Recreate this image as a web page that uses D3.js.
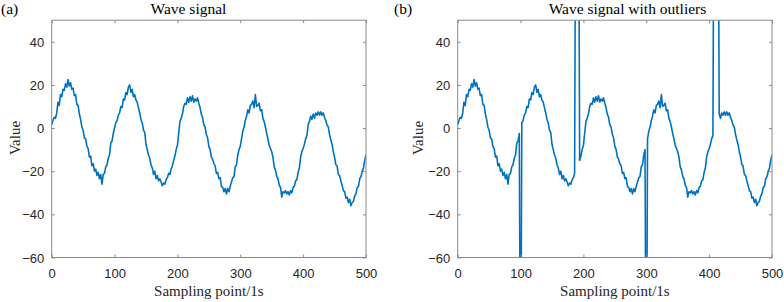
<!DOCTYPE html>
<html>
<head>
<meta charset="utf-8">
<script src="https://cdn.jsdelivr.net/npm/d3@7"></script>
<style>
  html, body { margin: 0; padding: 0; background: #fff; }
  svg { display: block; }
</style>
</head>
<body>
<svg id="chart" width="784" height="302"></svg>
<script>
// ---------------- data ----------------
const sampleStep = 2;
const waveValues = [
  1.5, 3.5, 5, 4.5, 7, 12, 10.5, 15.5, 14.5, 18,
  17.5, 20.5, 19, 22.5, 19.5, 21, 18, 18.5, 15, 15.5,
  11, 10.5, 6.5, 4, 0.5, -1, -4.5, -5, -8.5, -9.5,
  -13.5, -13, -17.5, -16.5, -20, -19, -22, -20.5, -23.5, -21.5,
  -26, -21.5, -21, -18, -17, -14, -12.5, -7, -6, -2.5,
  0, 2.5, 3.5, 6, 7, 10, 9.5, 13.5, 13, 16.5,
  15.5, 19, 20, 16.5, 18, 14.5, 15.5, 13, 12, 9.5,
  7, 4, 2.5, -1, -2, -7.5, -10, -12.5, -14, -17,
  -18.5, -21.5, -20, -23.5, -22, -24.5, -23.5, -25, -26.7, -25.5,
  -26, -24, -23, -21, -21.5, -19, -17.5, -15, -13, -10,
  -8, -2.5, 3, 4.5, 6.5, 10, 11.5, 11, 14, 12,
  14.5, 12.5, 15, 12, 13.5, 12.5, 14, 11.5, 9.5, 6.5,
  5, 1.5, 0.5, -3, -4.5, -8.5, -10, -13.5, -14.5, -16.5,
  -17.5, -21, -20.5, -23.5, -23, -27, -27.5, -29.5, -28, -30.5,
  -28, -29.5, -27, -25, -23, -22.5, -18, -17, -12.5, -10,
  -8.5, -5, -1.5, 0.5, 3.5, 5.5, 8.5, 7, 10.5, 11,
  12.5, 9.5, 15.5, 10, 10.5, 11.5, 8, 8.5, 4.5, 3,
  0.5, -2.5, -5, -8, -9.5, -11, -13.5, -18, -19.5, -22.5,
  -23.5, -26.5, -27.5, -32, -29.5, -30, -29, -30.5, -29.5, -31,
  -29, -30, -27.5, -27, -24.5, -24, -20.5, -18.5, -13.5, -11,
  -9.5, -7.5, -5, -3.5, 1.5, 3, 5.5, 4, 6.5, 4.5,
  7, 6, 7.5, 6, 7.5, 6, 7, 5, 3.5, 1.5,
  0.5, -3, -5.5, -7.5, -11, -13.5, -17, -17.5, -21.5, -22,
  -24.5, -26.5, -29, -29.5, -32.5, -32, -34.5, -33, -36, -34.5,
  -34, -31.5, -30.5, -27.5, -27, -23.5, -22.5, -20, -18.5, -15,
  -12.5
];
const outlierX = [100, 188, 190, 192, 300, 408, 410, 412, 414];
const outlierY = [-150, 150, 150, 150, -150, 150, 150, 150, 150];

const xTicks = [0, 100, 200, 300, 400, 500];
const yTicks = [-60, -40, -20, 0, 20, 40];
const xDomain = [0, 500];
const yDomain = [-60, 50];

const titles = ["Wave signal", "Wave signal with outliers"];
const panelLabels = ["(a)", "(b)"];
const xLabel = "Sampling point/1s";
const yLabel = "Value";

// ---------------- build series ----------------
const seriesA = waveValues.map((v, i) => ({x: i * sampleStep, y: v}));
const outlierMap = new Map(outlierX.map((x, i) => [x, outlierY[i]]));
const seriesB = seriesA.map(d => ({x: d.x, y: outlierMap.has(d.x) ? outlierMap.get(d.x) : d.y}));

// ---------------- layout ----------------
const panels = [
  {left: 51.7, series: seriesA, title: titles[0], titleX: 188.5, label: panelLabels[0], labelX: 1, yLabelX: 15},
  {left: 457.7, series: seriesB, title: titles[1], titleX: 627.5, label: panelLabels[1], labelX: 394, yLabelX: 418}
];
const plotW = 314.3, plotTop = 20.2, plotBottom = 257.5;

const svg = d3.select("#chart");
const axisColor = "#8a8a8a";
const textColor = "#262626";
const lineColor = "#0072BD";

panels.forEach((p, k) => {
  const x = d3.scaleLinear().domain(xDomain).range([p.left, p.left + plotW]);
  const y = d3.scaleLinear().domain(yDomain).range([plotBottom, plotTop]);
  const g = svg.append("g");

  const clipId = "clip" + k;
  svg.append("clipPath").attr("id", clipId)
    .append("rect").attr("x", p.left).attr("y", plotTop).attr("width", plotW).attr("height", plotBottom - plotTop);

  // line
  g.append("path")
    .datum(p.series)
    .attr("clip-path", `url(#${clipId})`)
    .attr("fill", "none")
    .attr("stroke", lineColor)
    .attr("stroke-width", 1.6)
    .attr("stroke-linejoin", "round")
    .attr("d", d3.line().x(d => x(d.x)).y(d => y(d.y)));

  // axes with inward ticks
  const ax = (sel) => {
    sel.select(".domain").remove();
    sel.selectAll(".tick line").attr("stroke", axisColor);
    sel.selectAll("text").attr("fill", textColor)
      .style("font-family", "'Liberation Sans', Arial, sans-serif")
      .style("font-size", "13px");
  };
  g.append("g").attr("transform", `translate(0,${plotBottom})`)
    .call(d3.axisBottom(x).tickValues(xTicks).tickSize(-3).tickPadding(0))
    .call(ax)
    .call(s => s.selectAll("text").attr("y", 20.5).attr("dy", null));
  g.append("g").attr("transform", `translate(0,${plotTop})`)
    .call(d3.axisTop(x).tickValues(xTicks).tickSize(-3).tickFormat(""))
    .call(ax);
  g.append("g").attr("transform", `translate(${p.left},0)`)
    .call(d3.axisLeft(y).tickValues(yTicks).tickSize(-3).tickPadding(0))
    .call(ax)
    .call(s => s.selectAll("text").attr("x", -7.5).attr("dy", "0.35em"));
  g.append("g").attr("transform", `translate(${p.left + plotW},0)`)
    .call(d3.axisRight(y).tickValues(yTicks).tickSize(-3).tickFormat(""))
    .call(ax);

  // box
  g.append("rect")
    .attr("x", p.left).attr("y", plotTop).attr("width", plotW).attr("height", plotBottom - plotTop)
    .attr("fill", "none").attr("stroke", axisColor).attr("stroke-width", 1);

  const serif = "'Liberation Serif', 'Times New Roman', serif";
  g.append("text").attr("x", p.titleX).attr("y", 14).attr("text-anchor", "middle")
    .style("font-family", serif).style("font-size", "15.5px").attr("fill", "#000").text(p.title);
  g.append("text").attr("x", p.labelX).attr("y", 14)
    .style("font-family", serif).style("font-size", "15.5px").attr("fill", "#000").text(p.label);
  g.append("text").attr("x", p.left + plotW / 2).attr("y", 296).attr("text-anchor", "middle")
    .style("font-family", serif).style("font-size", "15px").attr("fill", textColor).text(xLabel);
  g.append("text").attr("transform", `translate(${p.yLabelX},${138}) rotate(-90)`)
    .attr("text-anchor", "middle").attr("dy", "0.35em")
    .style("font-family", serif).style("font-size", "15px").attr("fill", textColor).text(yLabel);
});
</script>
</body>
</html>
